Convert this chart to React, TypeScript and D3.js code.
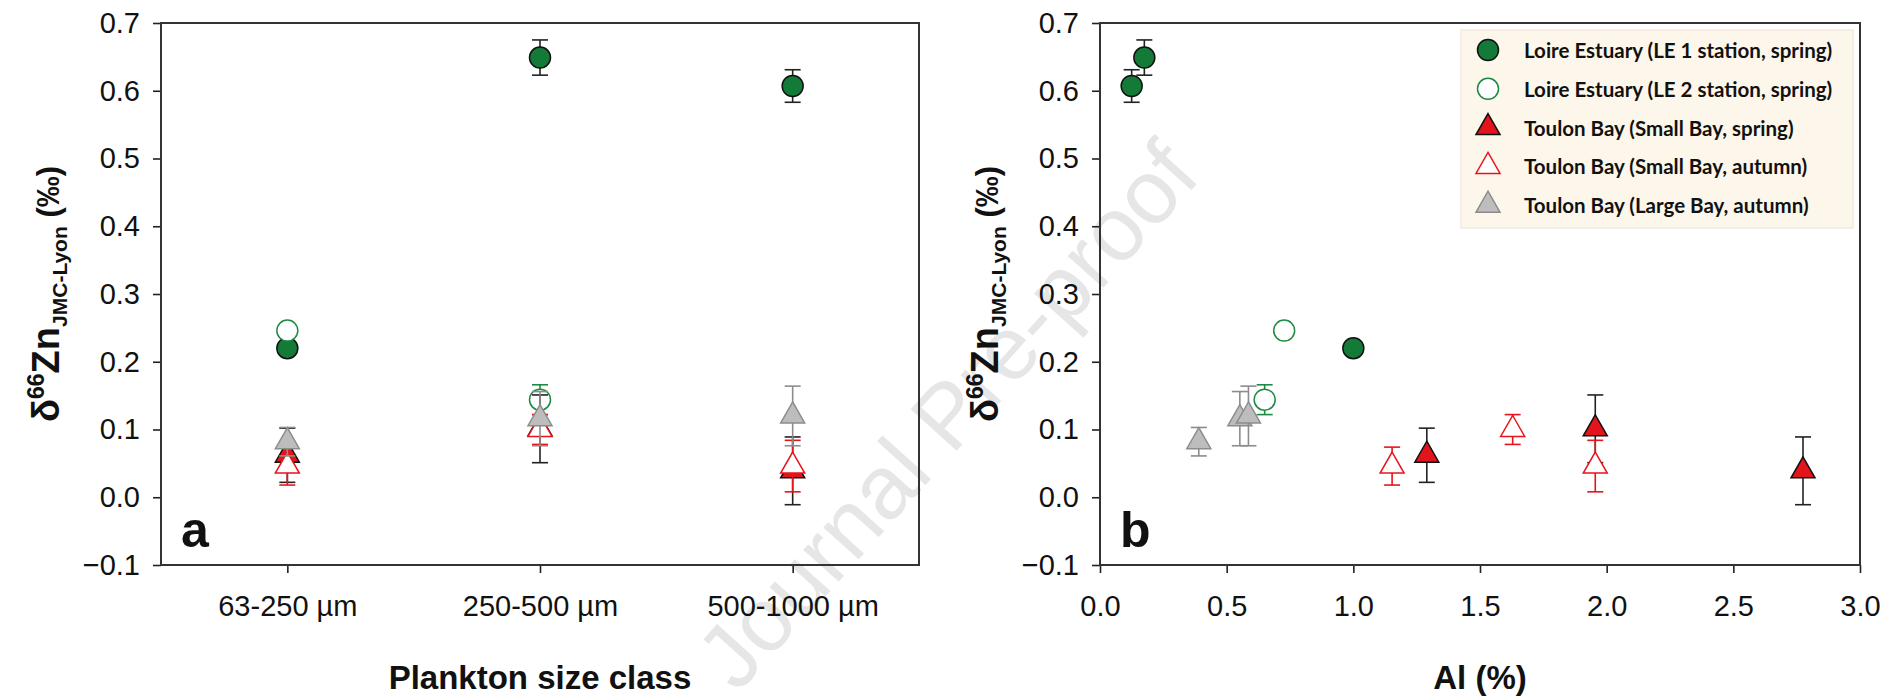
import React, { useEffect, useRef } from 'react';
import * as d3 from 'd3';

// size classes on panel a
const sizeClasses = ['63-250 µm', '250-500 µm', '500-1000 µm'];
const yTicks = [-0.1, 0, 0.1, 0.2, 0.3, 0.4, 0.5, 0.6, 0.7];
const alTicks = [0, 0.5, 1, 1.5, 2, 2.5, 3];

// Loire Estuary, LE 1 station, spring
const le1Size = [0, 1, 2];
const le1Al = [1.0, 0.175, 0.125];
const le1Zn = [0.22, 0.649, 0.607];
const le1Err = [0, 0.026, 0.024];

// Loire Estuary, LE 2 station, spring
const le2Size = [0, 1];
const le2Al = [0.727, 0.65];
const le2Zn = [0.246, 0.144];
const le2Err = [0, 0.022];

// Toulon Bay, Small Bay, spring
const sbSpringSize = [0, 1, 2];
const sbSpringAl = [1.29, 1.955, 2.775];
const sbSpringZn = [0.062, 0.101, 0.039];
const sbSpringErr = [0.04, 0.05, 0.05];

// Toulon Bay, Small Bay, autumn
const sbAutumnSize = [0, 1, 2];
const sbAutumnAl = [1.153, 1.629, 1.955];
const sbAutumnZn = [0.046, 0.1, 0.046];
const sbAutumnErr = [0.028, 0.022, 0.038];

// Toulon Bay, Large Bay, autumn
const lbAutumnSize = [0, 1, 2];
const lbAutumnAl = [0.39, 0.552, 0.586];
const lbAutumnZn = [0.082, 0.116, 0.12];
const lbAutumnErr = [0.021, 0.04, 0.044];

const series = [
  { name: 'Loire Estuary (LE 1 station, spring)', size: le1Size, al: le1Al, zn: le1Zn, err: le1Err,
    shape: 'circle', fill: '#137a37', stroke: '#111', errColor: '#222' },
  { name: 'Loire Estuary (LE 2 station, spring)', size: le2Size, al: le2Al, zn: le2Zn, err: le2Err,
    shape: 'circle', fill: '#fff', stroke: '#1f8a42', errColor: '#1f8a42' },
  { name: 'Toulon Bay (Small Bay, spring)', size: sbSpringSize, al: sbSpringAl, zn: sbSpringZn, err: sbSpringErr,
    shape: 'triangle', fill: '#e3141c', stroke: '#111', errColor: '#222' },
  { name: 'Toulon Bay (Small Bay, autumn)', size: sbAutumnSize, al: sbAutumnAl, zn: sbAutumnZn, err: sbAutumnErr,
    shape: 'triangle', fill: '#fff', stroke: '#e8141c', errColor: '#e8141c' },
  { name: 'Toulon Bay (Large Bay, autumn)', size: lbAutumnSize, al: lbAutumnAl, zn: lbAutumnZn, err: lbAutumnErr,
    shape: 'triangle', fill: '#bdbdbd', stroke: '#8c8c8c', errColor: '#8c8c8c' },
];

const triPath = (w: number, h: number) =>
  `M0,${-2 * h / 3}L${w / 2},${h / 3}L${-w / 2},${h / 3}Z`;

const App = () => {
  const ref = useRef<SVGSVGElement>(null);

  useEffect(() => {
    const svg = d3.select(ref.current);
    svg.selectAll('*').remove();

    const font = 'Liberation Sans, Arial, sans-serif';
    const top = 23, bottom = 565;

    const y = d3.scaleLinear().domain([-0.1, 0.7]).range([bottom, top]);

    // watermark behind everything
    svg.append('text')
      .attr('transform', 'translate(947,415) rotate(-48)')
      .attr('text-anchor', 'middle')
      .attr('dominant-baseline', 'central')
      .style('font-family', font)
      .style('font-size', '90px')
      .attr('fill', '#e6e6e6')
      .text('Journal Pre-proof');

    const drawMarker = (g: any, s: any, cx: number, cy: number) => {
      if (s.shape === 'circle') {
        g.append('circle').attr('cx', cx).attr('cy', cy).attr('r', 10.5)
          .attr('fill', s.fill).attr('stroke', s.stroke).attr('stroke-width', 1.5);
      } else {
        g.append('path').attr('d', triPath(24, 21))
          .attr('transform', `translate(${cx},${cy})`)
          .attr('fill', s.fill).attr('stroke', s.stroke).attr('stroke-width', 1.5)
          .attr('stroke-linejoin', 'miter');
      }
    };

    const drawPanel = (left: number, right: number, xKey: 'size' | 'al', letter: string, xTitle: string) => {
      const g = svg.append('g');
      let xPos: (v: number) => number;
      if (xKey === 'size') {
        const xb = d3.scalePoint<string>().domain(sizeClasses).range([left, right]).padding(0.5);
        xPos = (v) => xb(sizeClasses[v]) as number;
        g.append('g').attr('transform', `translate(0,${bottom})`)
          .call(d3.axisBottom(xb).tickSize(8).tickPadding(22).tickSizeOuter(0));
      } else {
        const xl = d3.scaleLinear().domain([0, 3]).range([left, right]);
        xPos = (v) => xl(v);
        g.append('g').attr('transform', `translate(0,${bottom})`)
          .call(d3.axisBottom(xl).tickValues(alTicks).tickFormat(d3.format('.1f')).tickSize(8).tickPadding(22).tickSizeOuter(0));
      }
      g.append('g').attr('transform', `translate(${left},0)`)
        .call(d3.axisLeft(y).tickValues(yTicks).tickFormat(d3.format('.1f')).tickSize(8).tickPadding(13).tickSizeOuter(0));

      g.selectAll('.domain').remove();
      g.selectAll('.tick line').attr('stroke', '#222').attr('stroke-width', 1.6);
      g.selectAll('.tick text').style('font-family', font).style('font-size', '29px').attr('fill', '#111');

      // frame
      g.append('rect').attr('x', left).attr('y', top).attr('width', right - left).attr('height', bottom - top)
        .attr('fill', 'none').attr('stroke', '#333').attr('stroke-width', 2);

      // data
      series.forEach((s) => {
        const sg = g.append('g');
        s.zn.forEach((v, i) => {
          const cx = xPos(s[xKey][i]);
          const cy = y(v);
          const e = s.err[i];
          if (e > 0) {
            const y1 = y(v + e), y2 = y(v - e);
            sg.append('line').attr('x1', cx).attr('x2', cx).attr('y1', y1).attr('y2', y2)
              .attr('stroke', s.errColor).attr('stroke-width', 1.6);
            [y1, y2].forEach((yy) => {
              sg.append('line').attr('x1', cx - 8).attr('x2', cx + 8).attr('y1', yy).attr('y2', yy)
                .attr('stroke', s.errColor).attr('stroke-width', 1.6);
            });
          }
          drawMarker(sg, s, cx, cy);
        });
      });

      // panel letter
      g.append('text').attr('x', left + 20).attr('y', 547)
        .style('font-family', font).style('font-size', '50px').style('font-weight', 'bold')
        .attr('fill', '#111').text(letter);

      // x title
      g.append('text').attr('x', (left + right) / 2).attr('y', 689).attr('text-anchor', 'middle')
        .style('font-family', font).style('font-size', '33px').style('font-weight', 'bold')
        .attr('fill', '#111').text(xTitle);

      // y title
      const yt = g.append('text')
        .attr('transform', `translate(${left - 102},${(top + bottom) / 2}) rotate(-90)`)
        .attr('text-anchor', 'middle')
        .style('font-family', font).style('font-weight', 'bold').attr('fill', '#111');
      yt.append('tspan').style('font-size', '38px').text('δ');
      yt.append('tspan').style('font-size', '23px').attr('dy', -15).text('66');
      yt.append('tspan').style('font-size', '38px').attr('dy', 15).text('Zn');
      yt.append('tspan').style('font-size', '21px').attr('dy', 8).text('JMC-Lyon');
      yt.append('tspan').style('font-size', '31px').attr('dy', -8).text(' (‰)');
    };

    drawPanel(161, 919, 'size', 'a', 'Plankton size class');
    drawPanel(1100, 1860, 'al', 'b', 'Al (%)');

    // legend
    const lg = svg.append('g');
    lg.append('rect').attr('x', 1461).attr('y', 30).attr('width', 392).attr('height', 198)
      .attr('fill', '#fdf6ea').attr('stroke', '#ece4d6').attr('stroke-width', 1);
    series.forEach((s, i) => {
      const cy = 50 + i * 38.8;
      drawMarker(lg, s, 1488, cy);
      lg.append('text').attr('x', 1524).attr('y', cy).attr('dominant-baseline', 'central')
        .style('font-family', 'Lato, sans-serif').style('font-size', '20.5px').style('font-weight', 'bold')
        .attr('fill', '#111').text(s.name);
    });
  }, []);

  return (
    <svg ref={ref} width={1899} height={699}
      style={{ position: 'absolute', left: 0, top: 0, background: '#fff' }} />
  );
};

export default App;
